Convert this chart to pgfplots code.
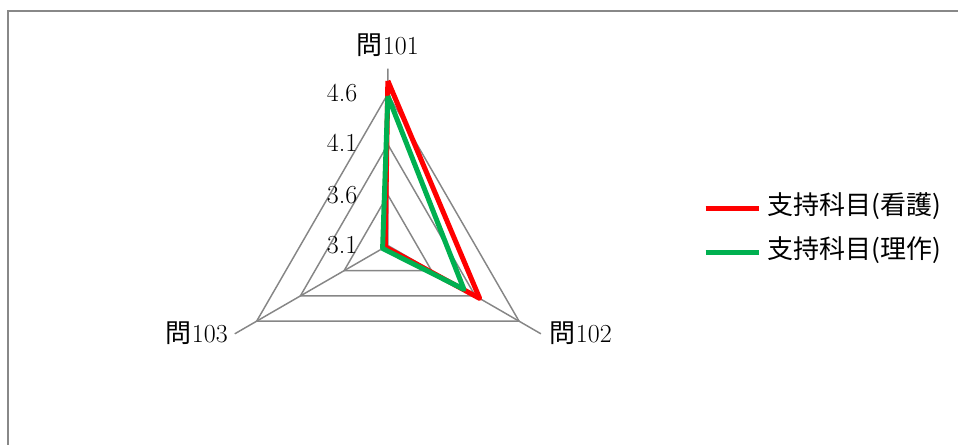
\documentclass[border=0pt]{standalone}
\usepackage{pgfplots}
\pgfplotsset{compat=1.18}
\usepackage{fontspec}
\newfontfamily\cjk{Noto Sans CJK JP}
\definecolor{gridgray}{RGB}{134,134,134}
\definecolor{framegray}{RGB}{136,136,136}
\definecolor{kango}{RGB}{255,0,0}
\definecolor{risa}{RGB}{0,176,80}

\begin{document}
\begin{tikzpicture}
\useasboundingbox (0,0) rectangle (718.5pt,-333.75pt);
\begin{axis}[
    anchor=north west, at={(0pt,0pt)},
    x=75.75pt, y=75.75pt,
    xmin=-3.84, xmax=5.64, ymin=-1.975, ymax=2.43,
    hide axis, clip=false,
    font=\fontsize{19.5}{22}\selectfont,
    legend style={
        at={(axis cs:3.12,0.15)}, anchor=west,
        draw=none, fill=none, inner sep=0pt,
        row sep=15pt, column sep=5pt,
        font=\cjk\fontsize{19.5}{22}\selectfont,
        nodes={inner sep=0pt, anchor=west, text height=14pt, text depth=4pt}
    },
    legend cell align=left,
    legend image code/.code={\draw[#1] (0pt,0pt) -- (39.75pt,0pt);},
]
% grid triangles at 3.6, 4.1, 4.6
\addplot[gridgray, line width=1.1pt, data cs=polar, forget plot]
    table[x=a, y expr=\thisrow{v}-3.1, row sep=\\]
    {a v\\ 90 3.6\\ 330 3.6\\ 210 3.6\\ 90 3.6\\};
\addplot[gridgray, line width=1.1pt, data cs=polar, forget plot]
    table[x=a, y expr=\thisrow{v}-3.1, row sep=\\]
    {a v\\ 90 4.1\\ 330 4.1\\ 210 4.1\\ 90 4.1\\};
\addplot[gridgray, line width=1.1pt, data cs=polar, forget plot]
    table[x=a, y expr=\thisrow{v}-3.1, row sep=\\]
    {a v\\ 90 4.6\\ 330 4.6\\ 210 4.6\\ 90 4.6\\};
% spokes up to 4.85
\addplot[gridgray, line width=1.1pt, data cs=polar, forget plot]
    table[x=a, y expr=\thisrow{v}-3.1, row sep=\\]
    {a v\\ 90 4.85\\ 90 3.1\\ 330 4.85\\ 330 3.1\\ 210 4.85\\};

\addplot[kango, line width=3.75pt, line join=round, data cs=polar]
    table[x=a, y expr=\thisrow{v}-3.1, row sep=\\]
    {a v\\ 90 4.73\\ 330 4.15\\ 210 3.13\\ 90 4.73\\};
\addlegendentry{支持科目(看護)}
\addplot[risa, line width=3.75pt, line join=round, data cs=polar]
    table[x=a, y expr=\thisrow{v}-3.1, row sep=\\]
    {a v\\ 90 4.58\\ 330 3.97\\ 210 3.16\\ 90 4.58\\};
\addlegendentry{支持科目(理作)}

\node[anchor=east, inner sep=0pt] at (axis cs:-0.30,1.51) {4.6};
\node[anchor=east, inner sep=0pt] at (axis cs:-0.30,1.015) {4.1};
\node[anchor=east, inner sep=0pt] at (axis cs:-0.30,0.5) {3.6};
\node[anchor=east, inner sep=0pt] at (axis cs:-0.30,0.005) {3.1};

\node at (axis cs:0,1.985) {{\cjk 問}101};
\node at (axis cs:1.911,-0.866) {{\cjk 問}102};
\node at (axis cs:-1.891,-0.866) {{\cjk 問}103};
\end{axis}
\draw[framegray, line width=1.5pt] (6pt,-340pt) -- (6pt,-8.25pt) -- (725pt,-8.25pt);
\end{tikzpicture}
\end{document}
